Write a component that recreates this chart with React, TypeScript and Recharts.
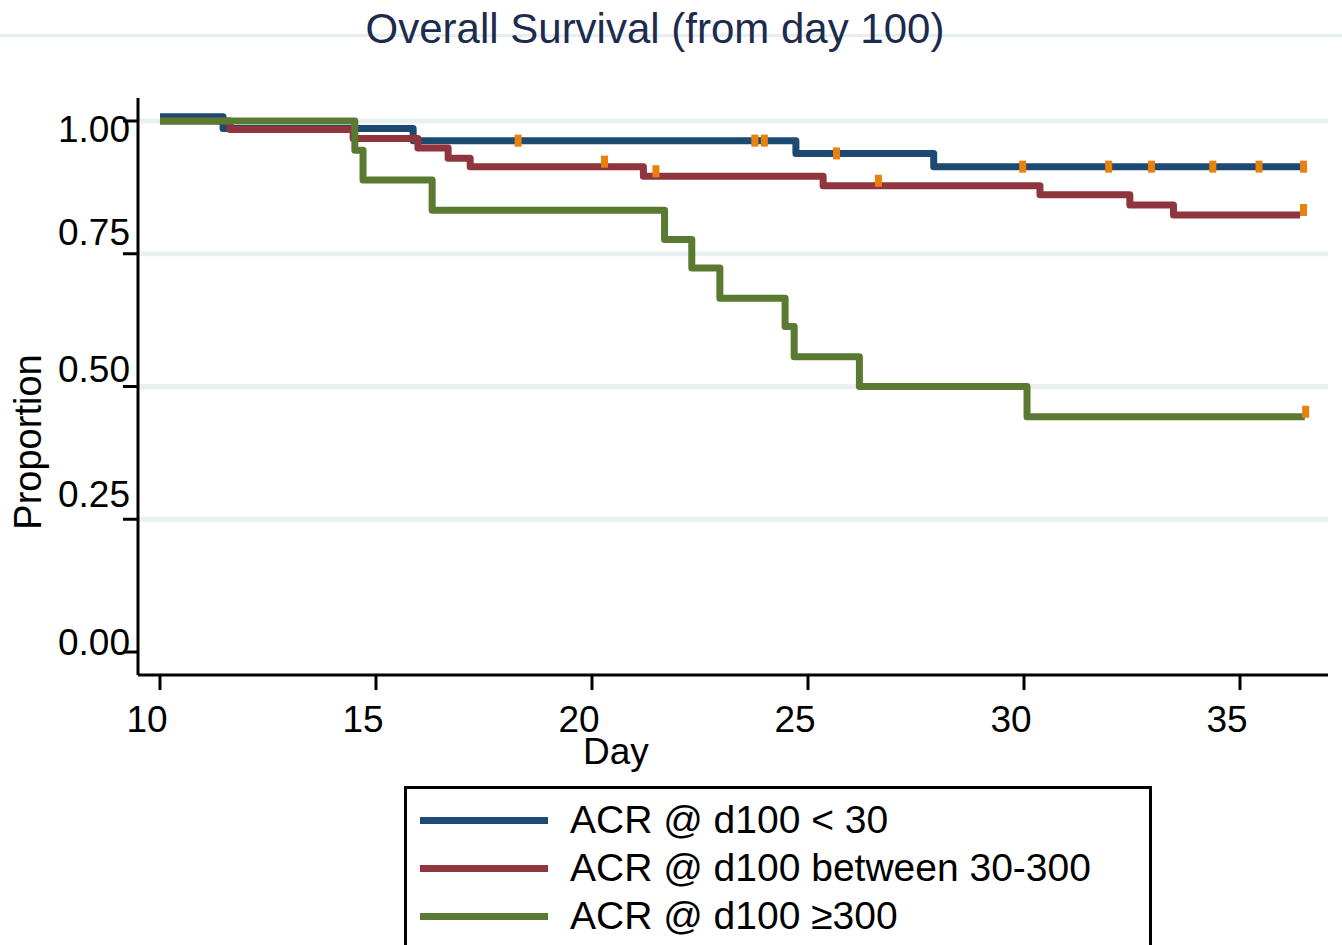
import React from 'react';
import { ComposedChart, Line, Scatter, XAxis, YAxis, ReferenceLine } from 'recharts';

// Kaplan-Meier steps: day of each step and survival after it
const lowDays = [10, 11.46, 15.86, 24.72, 27.91, 36.47];
const lowSurv = [1.008, 0.986, 0.963, 0.939, 0.914, 0.914];
const lowCensor = [18.29, 23.77, 23.99, 25.66, 29.97, 31.96, 32.95, 34.37, 35.44, 36.47];

const midDays = [10, 11.62, 14.47, 15.97, 16.67, 17.18, 21.19, 25.35, 30.37, 32.45, 33.46, 36.39];
const midSurv = [1.0, 0.984, 0.967, 0.949, 0.93, 0.914, 0.896, 0.878, 0.861, 0.842, 0.823, 0.823];
const midCensor = [20.29, 21.48, 26.63, 36.47];

const highDays = [10, 14.51, 14.7, 16.3, 21.68, 22.31, 22.96, 24.47, 24.68, 26.19, 30.07, 36.5];
const highSurv = [1.0, 0.945, 0.889, 0.832, 0.777, 0.723, 0.666, 0.613, 0.556, 0.5, 0.443, 0.443];
const highCensor = [36.52];

const xTicks = [10, 15, 20, 25, 30, 35];
const yTicks = [0, 0.25, 0.5, 0.75, 1];
const gridValues = [0.25, 0.5, 0.75, 1];

const seriesNames = ['ACR @ d100 < 30', 'ACR @ d100 between 30-300', 'ACR @ d100 \u2265300'];
const colors = ['#1d4a73', '#90353e', '#5a7a31'];
const censorColor = '#e8820c';
const FONT = '"Liberation Sans", Arial, sans-serif';

const toSteps = (days: number[], surv: number[]) => days.map((d, i) => ({ day: d, s: surv[i] }));

// y value of the step curve at a given day (used to sit censor ticks on the line)
const stepAt = (days: number[], surv: number[], d: number) => {
  let v = surv[0];
  days.forEach((x, i) => {
    if (x <= d) v = surv[i];
  });
  return v;
};

const toCensor = (days: number[], surv: number[], marks: number[]) =>
  marks.map(d => ({ day: d, s: stepAt(days, surv, d) }));

const lowData = toSteps(lowDays, lowSurv);
const midData = toSteps(midDays, midSurv);
const highData = toSteps(highDays, highSurv);

// label offsets copied from the figure, which has its y labels slightly off the ticks
const yLabelShift: Record<string, number> = { '0': -10, '0.25': -25, '0.5': -17, '0.75': -21, '1': 9 };

const YTick = (props: any) => {
  const { x, y, payload } = props;
  return (
    <text
      x={x + 9}
      y={y + (yLabelShift[String(payload.value)] || 0)}
      textAnchor="end"
      dominantBaseline="central"
      fontSize={37}
      fontFamily={FONT}
      fill="#000"
    >
      {payload.value.toFixed(2)}
    </text>
  );
};

const XTick = (props: any) => {
  const { x, y, payload } = props;
  return (
    <text
      x={x - 13}
      y={y + 27}
      textAnchor="middle"
      dominantBaseline="central"
      fontSize={37}
      fontFamily={FONT}
      fill="#000"
    >
      {payload.value}
    </text>
  );
};

const censorShape = (lift: number) => (props: any) => {
  const { cx, cy } = props;
  return <rect x={cx - 3.5} y={cy - 6 - lift} width={7} height={12} fill={censorColor} />;
};

export default function App() {
  return (
    <div
      style={{
        position: 'absolute',
        left: 0,
        top: 0,
        width: 1342,
        height: 945,
        overflow: 'hidden',
        background: '#fff',
        fontFamily: FONT,
      }}
    >
      <div style={{ position: 'absolute', left: 0, top: 34, width: 1342, height: 3, background: '#e6eef0' }} />
      <div
        style={{
          position: 'absolute',
          left: 0,
          top: 5,
          width: 1310,
          textAlign: 'center',
          fontSize: 42,
          lineHeight: '48px',
          color: '#1c2b4e',
        }}
      >
        Overall Survival (from day 100)
      </div>

      <ComposedChart width={1342} height={945} margin={{ top: 98, right: 14, bottom: 0, left: 0 }}>
        <XAxis
          type="number"
          dataKey="day"
          domain={[9.491, 37.037]}
          ticks={xTicks}
          allowDataOverflow
          height={270}
          tickSize={15}
          stroke="#000"
          strokeWidth={3}
          tick={<XTick />}
        />
        <YAxis
          type="number"
          domain={[-0.0433, 1.0433]}
          ticks={yTicks}
          allowDataOverflow
          width={138}
          tickSize={15}
          stroke="#000"
          strokeWidth={3}
          tick={<YTick />}
        />
        {gridValues.map(v => (
          <ReferenceLine key={v} y={v} stroke="#e8f0f2" strokeWidth={5} />
        ))}
        <Line
          data={lowData}
          dataKey="s"
          type="stepAfter"
          stroke={colors[0]}
          strokeWidth={7}
          strokeLinejoin="round"
          dot={false}
          activeDot={false}
          isAnimationActive={false}
        />
        <Line
          data={midData}
          dataKey="s"
          type="stepAfter"
          stroke={colors[1]}
          strokeWidth={7}
          strokeLinejoin="round"
          dot={false}
          activeDot={false}
          isAnimationActive={false}
        />
        <Line
          data={highData}
          dataKey="s"
          type="stepAfter"
          stroke={colors[2]}
          strokeWidth={7}
          strokeLinejoin="round"
          dot={false}
          activeDot={false}
          isAnimationActive={false}
        />
        <Scatter data={toCensor(lowDays, lowSurv, lowCensor)} dataKey="s" shape={censorShape(0)} isAnimationActive={false} />
        <Scatter data={toCensor(midDays, midSurv, midCensor)} dataKey="s" shape={censorShape(5)} isAnimationActive={false} />
        <Scatter data={toCensor(highDays, highSurv, highCensor)} dataKey="s" shape={censorShape(5)} isAnimationActive={false} />
      </ComposedChart>

      <div style={{ position: 'absolute', left: 583, top: 730, fontSize: 37, lineHeight: '44px', color: '#000' }}>Day</div>
      <div
        style={{
          position: 'absolute',
          left: 28,
          top: 442,
          fontSize: 38,
          lineHeight: '40px',
          color: '#000',
          whiteSpace: 'nowrap',
          transform: 'translate(-50%, -50%) rotate(-90deg)',
        }}
      >
        Proportion
      </div>

      <div
        style={{
          position: 'absolute',
          left: 404,
          top: 786,
          width: 742,
          height: 200,
          border: '3px solid #000',
          paddingTop: 7,
        }}
      >
        {seriesNames.map((name, i) => (
          <div key={name} style={{ display: 'flex', alignItems: 'center', height: 48 }}>
            <div style={{ marginLeft: 13, width: 128, height: 7, background: colors[i] }} />
            <div style={{ marginLeft: 22, fontSize: 39, color: '#000', whiteSpace: 'nowrap' }}>{name}</div>
          </div>
        ))}
      </div>
    </div>
  );
}
